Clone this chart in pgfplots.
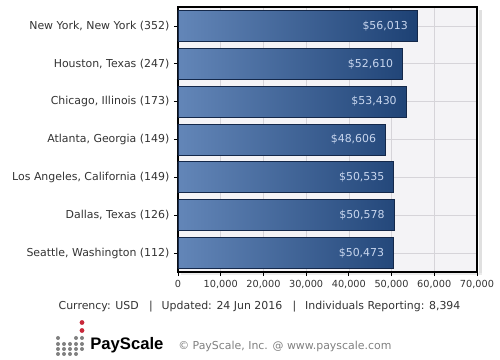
\documentclass[border=0pt]{standalone}
\usepackage{pgfplots}
\pgfplotsset{compat=1.18}
\usepackage{fontspec}
\setmainfont{DejaVu Sans}
\newfontfamily\logofont{Liberation Sans}
\definecolor{txt}{HTML}{333333}
\definecolor{barL}{HTML}{6386B8}
\definecolor{barM}{HTML}{2B5893}
\definecolor{barR}{HTML}{1D4174}
\definecolor{barE}{HTML}{14284A}
\definecolor{valc}{HTML}{C8D6EE}
\definecolor{plotbg}{HTML}{F4F3F6}
\definecolor{gridc}{HTML}{D6D4D9}
\definecolor{logored}{HTML}{C8283A}
\pgfplotstableread{
y val
0 56013
1 52610
2 53430
3 48606
4 50535
5 50578
6 50473
}\datatab
\begin{document}
\begin{tikzpicture}
\begin{scope}[x=0.75pt,y=-0.75pt,yshift=270pt]
\useasboundingbox (0,0) rectangle (500,360);
\fill[black!12] (479,10) rectangle (482,275);
\fill[black!8] (181,273) rectangle (482,275);
\end{scope}
\begin{axis}[
  at={(133.5pt,66pt)}, anchor=south west,
  scale only axis,
  width=224.25pt, height=198.75pt,
  xbar, bar width=23.2pt,
  xmin=0, xmax=70000,
  ymin=-0.5, ymax=6.5,
  y dir=reverse,
  ytick={0,...,6},
  yticklabels={{New York, New York (352)},{Houston, Texas (247)},{Chicago, Illinois (173)},{Atlanta, Georgia (149)},{Los Angeles, California (149)},{Dallas, Texas (126)},{Seattle, Washington (112)}},
  xtick={0,10000,...,70000},
  xtick pos=bottom, ytick pos=left,
  scaled x ticks=false,
  /pgf/number format/assume math mode=true,
  /pgf/number format/1000 sep={,},
  x tick label style={font=\fontsize{7.3}{8}\selectfont, text=txt},
  y tick label style={font=\fontsize{8.2}{9}\selectfont, text=txt},
  tick align=outside,
  major tick length=3pt,
  tick style={black, line width=0.6pt},
  axis line style={black, line width=0.8pt},
  axis background/.style={fill=plotbg},
  grid=major,
  major grid style={gridc, line width=0.5pt},
  nodes near coords={\$\pgfmathprintnumber{\pgfplotspointmeta}},
  point meta=x,
  every node near coord/.append style={anchor=east, xshift=-3.5pt, text=valc, font=\fontsize{8.2}{9}\selectfont},
]
\addplot[xbar, draw=barE, line width=0.6pt, left color=barL, middle color=barM, right color=barR] table[x=val, y=y] {\datatab};
\end{axis}
\begin{scope}[x=0.75pt,y=-0.75pt,yshift=270pt]
\node[text=txt, font=\fontsize{8.2}{9}\selectfont] at (259.5,307) {Currency: USD \ \ |\ \ \,Updated: 24 Jun 2016 \ \ |\ \ \,Individuals Reporting: 8,394};
\foreach \cx/\cy in {58/338,76/338,82/338,58/344,64/344,70/344,76/344,82/344,58/349,64/349,70/349,76/349,82/349,58/354,64/354,70/354,76/354}
  \fill[black!50] (\cx,\cy) circle (2);
\fill[logored] (82,322.5) circle (2.4);
\fill[logored] (82,330.5) circle (2.4);
\node[anchor=west, font=\logofont\fontsize{12.5}{14}\selectfont\bfseries, inner sep=0pt] at (90,345) {PayScale};
\node[anchor=west, text=black!50, font=\fontsize{8.2}{9}\selectfont, inner sep=0pt] at (178,346) {© PayScale, Inc. @ www.payscale.com};
\end{scope}
\end{tikzpicture}
\end{document}
